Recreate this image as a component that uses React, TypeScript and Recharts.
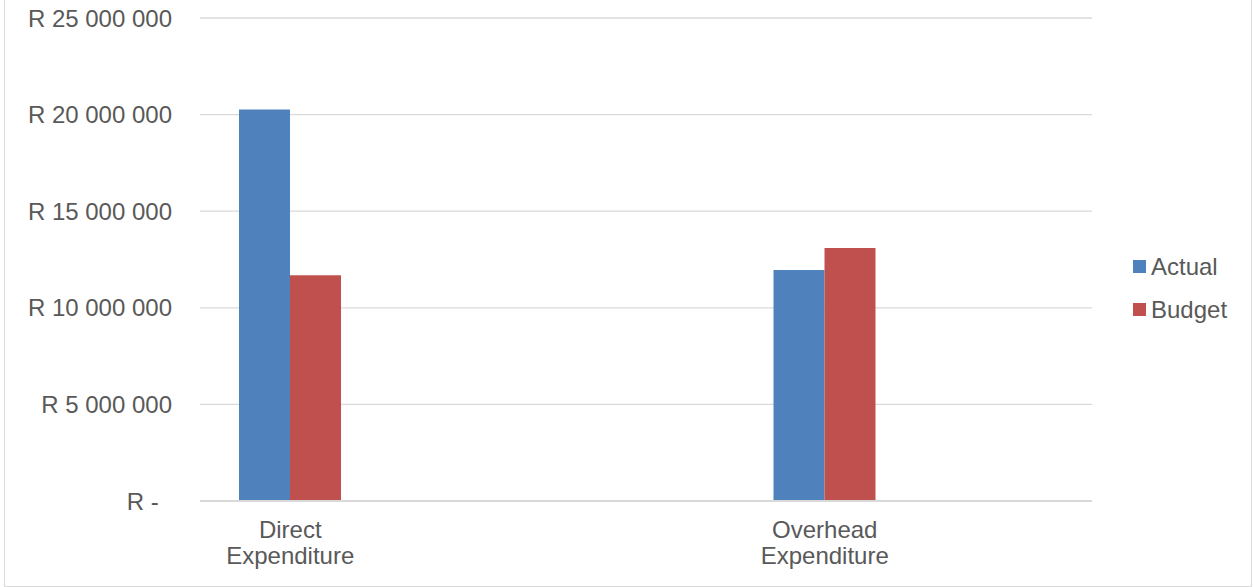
import { BarChart, Bar, XAxis, YAxis, CartesianGrid } from "recharts";

const categories = ["Direct Expenditure", "Overhead Expenditure"];
const actual = [20260000, 11960000];
const budget = [11680000, 13100000];
const yTicks = [0, 5000000, 10000000, 15000000, 20000000, 25000000];
const seriesNames = ["Actual", "Budget"];

const data = categories.map((name, i) => ({ name, Actual: actual[i], Budget: budget[i] }));

const FONT = "'Liberation Sans', Arial, sans-serif";
const TEXT = "#595959";
const GRID = "#d9d9d9";
const BLUE = "#4F81BD";
const RED = "#C0504D";
const COLORS = [BLUE, RED];

function fmtRand(v: number) {
  if (v === 0) return "R -\u00a0\u00a0";
  return "R " + v.toLocaleString("en-US").replace(/,/g, " ");
}

function CategoryTick({ x, y, payload }: any) {
  const words = String(payload.value).split(" ");
  return (
    <text x={x} y={y} textAnchor="middle" fill={TEXT} fontSize={24} fontFamily={FONT}>
      {words.map((w, i) => (
        <tspan key={w} x={x} y={y + 37 + i * 26}>
          {w}
        </tspan>
      ))}
    </text>
  );
}

function LegendBox() {
  return (
    <div style={{ position: "absolute", left: 1133, top: 245, fontFamily: FONT, fontSize: 24, color: TEXT }}>
      {seriesNames.map((label, i) => (
        <div key={label} style={{ display: "flex", alignItems: "center", height: 43 }}>
          <span style={{ width: 13, height: 13, background: COLORS[i], marginRight: 5, display: "inline-block" }} />
          {label}
        </div>
      ))}
    </div>
  );
}

export default function App() {
  return (
    <div style={{ position: "absolute", left: 0, top: 0, width: 1253, height: 587, background: "#fff" }}>
      <div
        style={{
          position: "absolute",
          left: 4,
          top: -2,
          width: 1248,
          height: 589,
          border: `1px solid ${GRID}`,
          boxSizing: "border-box",
        }}
      />
      <BarChart
        width={1253}
        height={587}
        data={data}
        margin={{ top: 18, right: 161, bottom: 0, left: 0 }}
        barGap={0}
        barSize={51}
      >
        <CartesianGrid vertical={false} stroke={GRID} strokeWidth={1.3} />
        <XAxis
          dataKey="name"
          height={86}
          padding={{ left: -177, right: 0 }}
          axisLine={{ stroke: GRID, strokeWidth: 2 }}
          tickLine={false}
          tickSize={0}
          tickMargin={0}
          interval={0}
          tick={<CategoryTick />}
        />
        <YAxis
          width={200}
          domain={[0, 25000000]}
          ticks={yTicks}
          axisLine={false}
          tickLine={false}
          tickSize={0}
          tickMargin={28}
          tickFormatter={fmtRand}
          tick={{ fill: TEXT, fontSize: 24, fontFamily: FONT }}
        />
        <Bar dataKey="Actual" fill={BLUE} isAnimationActive={false} />
        <Bar dataKey="Budget" fill={RED} isAnimationActive={false} />
      </BarChart>
      <LegendBox />
    </div>
  );
}
